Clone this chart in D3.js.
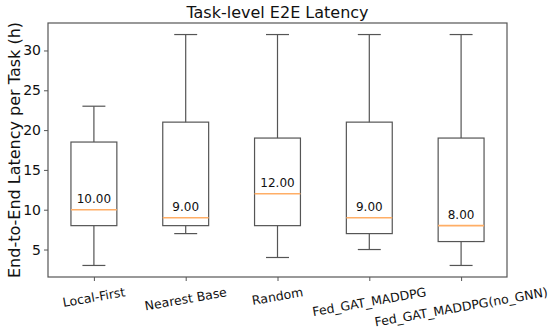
<!DOCTYPE html>
<html><head><meta charset="utf-8">
<script src="https://cdn.jsdelivr.net/npm/d3@7"></script>
<style>body{margin:0;background:#fff}svg{display:block;font-family:"DejaVu Sans",sans-serif}</style>
</head><body><svg id="c" width="550" height="330"></svg>
<script>
const categories = ["Local-First","Nearest Base","Random","Fed_GAT_MADDPG","Fed_GAT_MADDPG(no_GNN)"];
const mins    = [3, 7, 4, 5, 3];
const q1s     = [8, 8, 8, 7, 6];
const medians = [10, 9, 12, 9, 8];
const q3s     = [18.5, 21, 19, 21, 19];
const maxs    = [23, 32, 32, 32, 32];
const yTicks  = [5, 10, 15, 20, 25, 30];

const svg = d3.select("#c");
const L = 48, R = 507, T = 23, B = 277;
const x = d3.scaleLinear().domain([0.5, 5.5]).range([L, R]);
const y = d3.scaleLinear().domain([1.55, 33.45]).range([B, T]);
const stroke = "#555";

// title
svg.append("text").attr("x", (L+R)/2).attr("y", 18).attr("text-anchor","middle")
  .attr("font-size", 16).attr("fill","#111").text("Task-level E2E Latency");

// y label
svg.append("text").attr("transform", `translate(20,${(T+B)/2}) rotate(-90)`)
  .attr("text-anchor","middle").attr("font-size", 16).attr("fill","#111")
  .text("End-to-End Latency per Task (h)");

// y axis
const yAxis = svg.append("g").attr("transform", `translate(${L},0)`)
  .call(d3.axisLeft(y).tickValues(yTicks).tickSize(4).tickPadding(3).tickFormat(d3.format("d")));
yAxis.select(".domain").remove();
yAxis.selectAll("line").attr("stroke", stroke);
yAxis.selectAll("text").attr("font-size", 14).attr("fill","#111").attr("font-family","DejaVu Sans");

// x axis ticks
const xAxis = svg.append("g").attr("transform", `translate(0,${B})`)
  .call(d3.axisBottom(x).tickValues([1,2,3,4,5]).tickSize(4).tickFormat(""));
xAxis.select(".domain").remove();
xAxis.selectAll("line").attr("stroke", stroke);

// x labels rotated 10deg, rotation_mode default (bbox top at tick)
const fs = 12.5, ang = 10 * Math.PI/180;
categories.forEach((c, i) => {
  const t = svg.append("text").attr("font-size", fs).attr("fill","#111")
    .attr("text-anchor","middle").attr("dominant-baseline","central").text(c);
  const w = t.node().getComputedTextLength();
  const h = fs * 1.17;
  const bh = w*Math.sin(ang) + h*Math.cos(ang);
  const cy = B + 4 + 3.5 + bh/2;
  t.attr("transform", `translate(${x(i+1)},${cy}) rotate(-10)`);
});

// boxes
const g = svg.append("g");
const hb = 0.25, hc = 0.125;
categories.forEach((c, i) => {
  const cx = i+1;
  g.append("line").attr("x1", x(cx)).attr("x2", x(cx)).attr("y1", y(mins[i])).attr("y2", y(q1s[i])).attr("stroke", stroke).attr("stroke-width",1.2);
  g.append("line").attr("x1", x(cx)).attr("x2", x(cx)).attr("y1", y(q3s[i])).attr("y2", y(maxs[i])).attr("stroke", stroke).attr("stroke-width",1.2);
  g.append("line").attr("x1", x(cx-hc)).attr("x2", x(cx+hc)).attr("y1", y(mins[i])).attr("y2", y(mins[i])).attr("stroke", stroke).attr("stroke-width",1.2);
  g.append("line").attr("x1", x(cx-hc)).attr("x2", x(cx+hc)).attr("y1", y(maxs[i])).attr("y2", y(maxs[i])).attr("stroke", stroke).attr("stroke-width",1.2);
  g.append("rect").attr("x", x(cx-hb)).attr("width", x(cx+hb)-x(cx-hb))
    .attr("y", y(q3s[i])).attr("height", y(q1s[i]) - y(q3s[i]))
    .attr("fill","none").attr("stroke", stroke).attr("stroke-width",1.2);
  g.append("line").attr("x1", x(cx-hb)).attr("x2", x(cx+hb)).attr("y1", y(medians[i])).attr("y2", y(medians[i]))
    .attr("stroke", "#ffae66").attr("stroke-width",1.6);
  g.append("text").attr("x", x(cx)).attr("y", y(medians[i]) - 6.5).attr("text-anchor","middle")
    .attr("font-size", 12).attr("fill","#111").text(medians[i].toFixed(2));
});

// frame
svg.append("rect").attr("x", L).attr("y", T).attr("width", R-L).attr("height", B-T)
  .attr("fill","none").attr("stroke", stroke).attr("stroke-width",1.2);
</script></body></html>
